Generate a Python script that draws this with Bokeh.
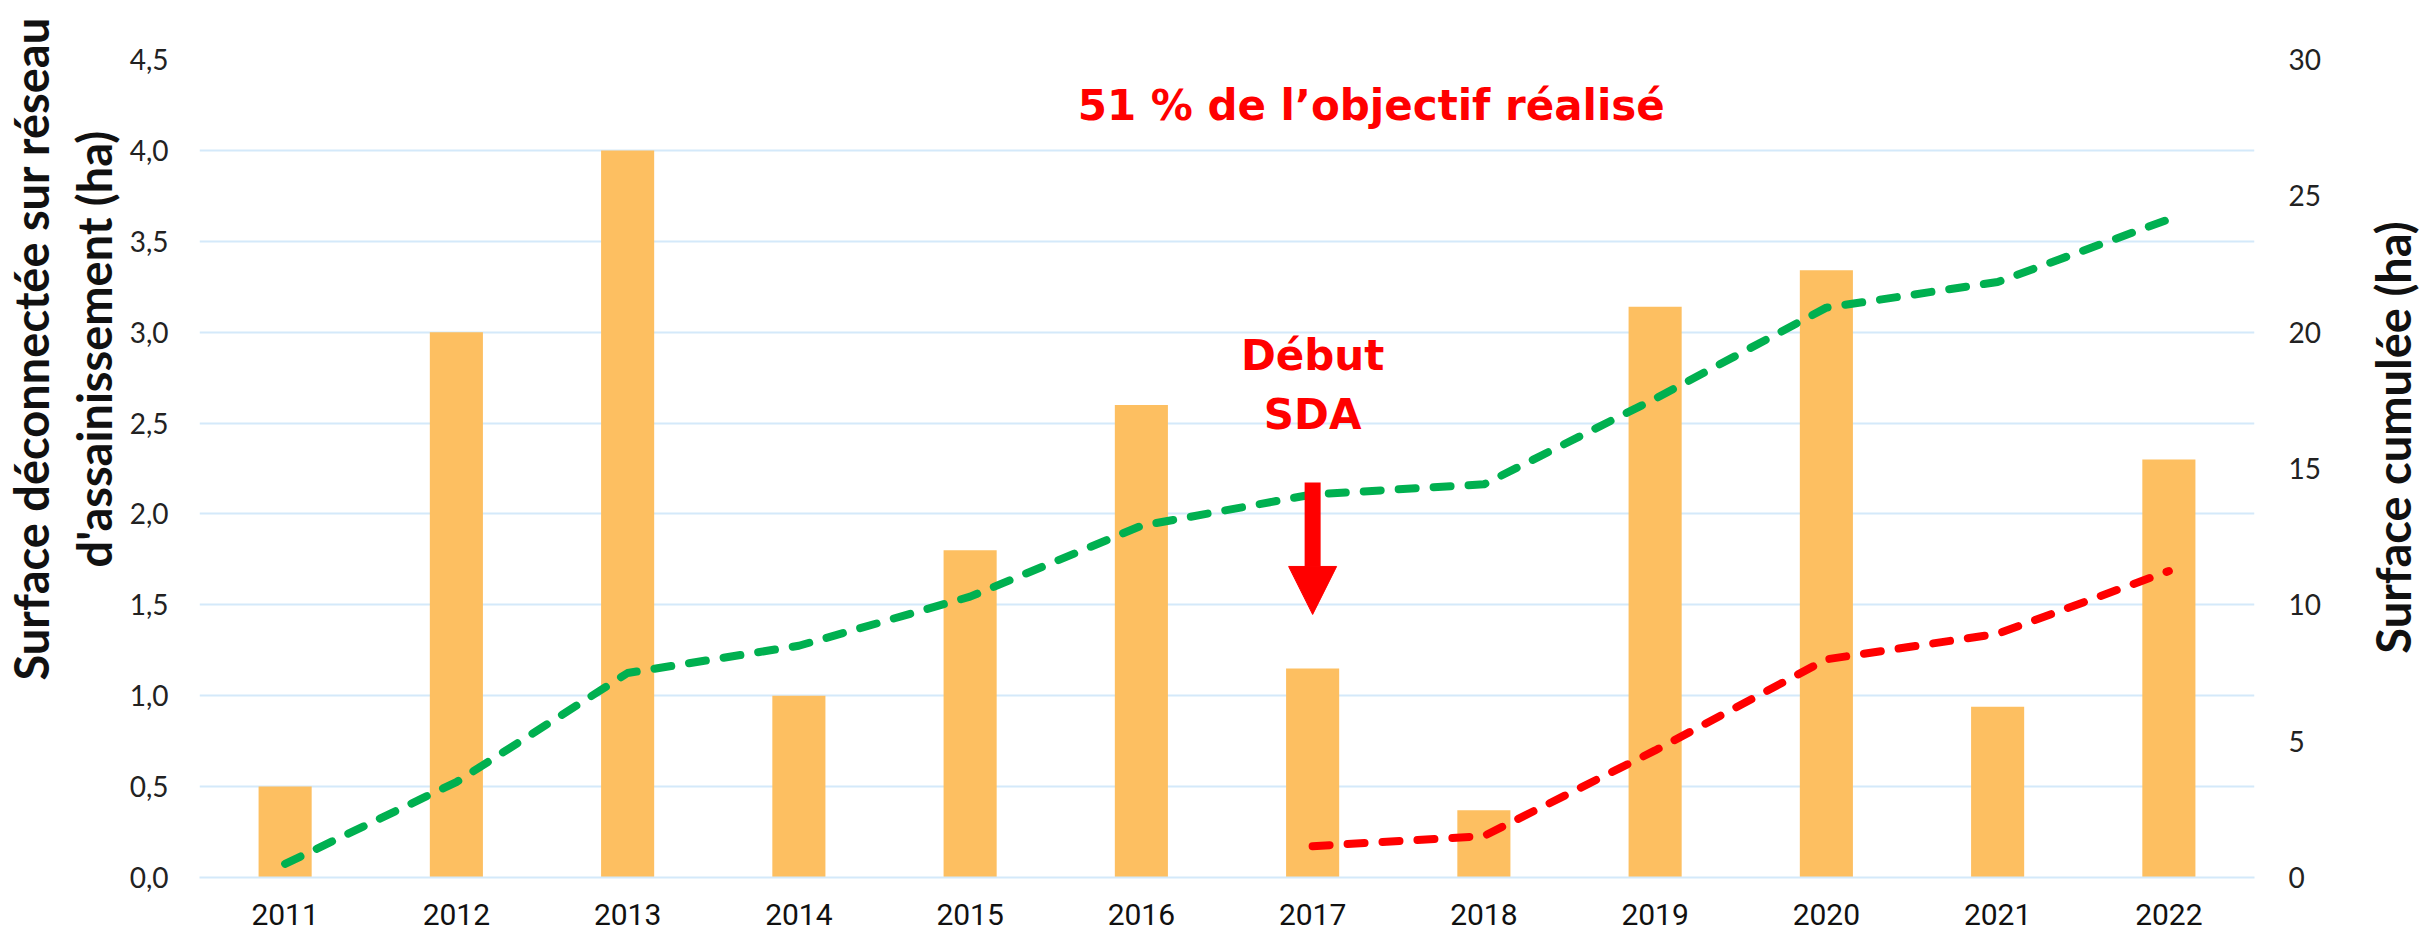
import math
from bokeh.plotting import figure
from bokeh.layouts import row
from bokeh.models import (Range1d, LinearAxis, FixedTicker, CustomJSTickFormatter,
                          Label, Arrow, NormalHead, Title)
from bokeh.embed import file_html
from bokeh.resources import INLINE

# ---------------- data ----------------
years = ["2011", "2012", "2013", "2014", "2015", "2016",
         "2017", "2018", "2019", "2020", "2021", "2022"]
surface_annuelle = [0.5, 3.0, 4.0, 1.0, 1.8, 2.6, 1.15, 0.37, 3.14, 3.34, 0.94, 2.3]
cumul_total = [0.5, 3.5, 7.5, 8.5, 10.3, 12.9, 14.05, 14.42, 17.56, 20.9, 21.84, 24.14]
sda_years = ["2017", "2018", "2019", "2020", "2021", "2022"]
cumul_sda = [1.15, 1.52, 4.66, 8.0, 8.94, 11.24]
left_ticks = [0, 0.5, 1.0, 1.5, 2.0, 2.5, 3.0, 3.5, 4.0, 4.5]
right_ticks = [0, 5, 10, 15, 20, 25, 30]

x_idx = list(range(len(years)))
sda_idx = [years.index(y) for y in sda_years]

# ---------------- styles ----------------
BAR = "#FDBF61"
GREEN = "#00B050"
RED = "#FF0000"
GRID = "#D4E9FA"
TICK_FONT = "Lato"
YEAR_FONT = "Roboto"
AXT_FONT = "Lato"
AXT_SIZE = "47px"
TITLE_FONT = "DejaVu Sans"
H = 934
TOP, BOTTOM = 59, 57
RIGHT_W = 70
MAIN_W = 2420 - RIGHT_W

p = figure(width=MAIN_W, height=H, output_backend="svg", toolbar_location=None,
           x_range=Range1d(-0.5, 11.5), y_range=Range1d(0, 4.5),
           min_border_left=199, min_border_right=MAIN_W - 2254,
           min_border_top=TOP, min_border_bottom=BOTTOM)
p.outline_line_color = None
p.background_fill_color = "white"
p.border_fill_color = "white"

p.extra_y_ranges = {"cumul": Range1d(0, 30)}

# bars
p.vbar(x=x_idx, top=surface_annuelle, width=0.31, fill_color=BAR, line_color=None)

# lines
p.line(x=x_idx, y=cumul_total, y_range_name="cumul", line_color=GREEN,
       line_width=8, line_dash="17 18", line_cap="round", line_join="round")
p.line(x=sda_idx, y=cumul_sda, y_range_name="cumul", line_color=RED,
       line_width=8, line_dash="17 18", line_cap="round", line_join="round")

# grid
p.xgrid.grid_line_color = None
p.ygrid.ticker = FixedTicker(ticks=left_ticks)
p.ygrid.grid_line_color = GRID
p.ygrid.grid_line_width = 2

# x axis
p.xaxis.ticker = FixedTicker(ticks=x_idx)
p.xaxis.major_label_overrides = {i: y for i, y in enumerate(years)}
p.xaxis.axis_line_color = GRID
p.xaxis.axis_line_width = 2
p.xaxis.major_tick_line_color = None
p.xaxis.minor_tick_line_color = None
p.xaxis.major_label_text_font = YEAR_FONT
p.xaxis.major_label_text_font_size = "30px"
p.xaxis.major_label_text_color = "#111111"
p.xaxis.major_label_standoff = 20

# left axis
p.yaxis.ticker = FixedTicker(ticks=left_ticks)
p.yaxis.formatter = CustomJSTickFormatter(code="return tick.toFixed(1).replace('.', ',');")
p.yaxis.axis_line_color = None
p.yaxis.major_tick_line_color = None
p.yaxis.minor_tick_line_color = None
p.yaxis.major_tick_out = 0
p.yaxis.major_tick_in = 0
p.yaxis.minor_tick_out = 0
p.yaxis.axis_label_standoff = 0
p.yaxis.major_label_text_font = TICK_FONT
p.yaxis.major_label_text_font_size = "28px"
p.yaxis.major_label_text_color = "#222222"
p.yaxis.major_label_standoff = 31

# right axis
ax_r = LinearAxis(y_range_name="cumul", ticker=FixedTicker(ticks=right_ticks))
ax_r.axis_line_color = None
ax_r.major_tick_line_color = None
ax_r.minor_tick_line_color = None
ax_r.major_tick_out = 0
ax_r.major_tick_in = 0
ax_r.minor_tick_out = 0
ax_r.major_label_text_font = TICK_FONT
ax_r.major_label_text_font_size = "28px"
ax_r.major_label_text_color = "#222222"
ax_r.major_label_standoff = 34
p.add_layout(ax_r, "right")

# left axis title: two lines as side titles (reading bottom to top)
def side_title(txt, offset, standoff):
    return Title(text=txt, align="left", offset=offset, standoff=standoff,
                 text_font=AXT_FONT, text_font_style="bold",
                 text_font_size=AXT_SIZE, text_color="#111111")

p.add_layout(side_title("d'assainissement (ha)", 310, 9), "left")
p.add_layout(side_title("Surface déconnectée sur réseau", 197, 1), "left")

# annotations
p.add_layout(Label(x=6.385, y=4.246, text="51 % de l\u2019objectif  réalisé",
                   text_align="center", text_baseline="alphabetic",
                   text_font=TITLE_FONT, text_font_style="bold",
                   text_font_size="42px", text_color=RED))
p.add_layout(Label(x=6.0, y=2.871, text="Début", text_align="center",
                   text_baseline="alphabetic", text_font=TITLE_FONT,
                   text_font_style="bold", text_font_size="42px", text_color=RED))
p.add_layout(Label(x=6.0, y=2.547, text="SDA", text_align="center",
                   text_baseline="alphabetic", text_font=TITLE_FONT,
                   text_font_style="bold", text_font_size="42px", text_color=RED))
p.add_layout(Arrow(x_start=6.0, y_start=2.173, x_end=6.0, y_end=1.447,
                   line_color=RED, line_width=16, line_cap="butt",
                   end=NormalHead(size=48, fill_color=RED, line_color=RED, line_width=1)))

# right axis title in a narrow side panel (pixel coordinates, reading bottom to top)
right_fig = figure(width=RIGHT_W, height=H, x_range=Range1d(0, RIGHT_W),
                   y_range=Range1d(H - BOTTOM, TOP), x_axis_type=None, y_axis_type=None,
                   output_backend="svg", toolbar_location=None,
                   min_border_left=0, min_border_right=0,
                   min_border_top=TOP, min_border_bottom=BOTTOM)
right_fig.outline_line_color = None
right_fig.background_fill_color = "white"
right_fig.border_fill_color = "white"
right_fig.xgrid.visible = False
right_fig.ygrid.visible = False
right_fig.add_layout(Label(x=42, y=437, text="Surface cumulée (ha)", angle=math.pi / 2,
                           text_align="center", text_baseline="alphabetic",
                           text_font=AXT_FONT, text_font_style="bold",
                           text_font_size=AXT_SIZE, text_color="#111111"))

layout = row(p, right_fig, spacing=0)
open("out.html", "w").write(file_html(layout, INLINE))
